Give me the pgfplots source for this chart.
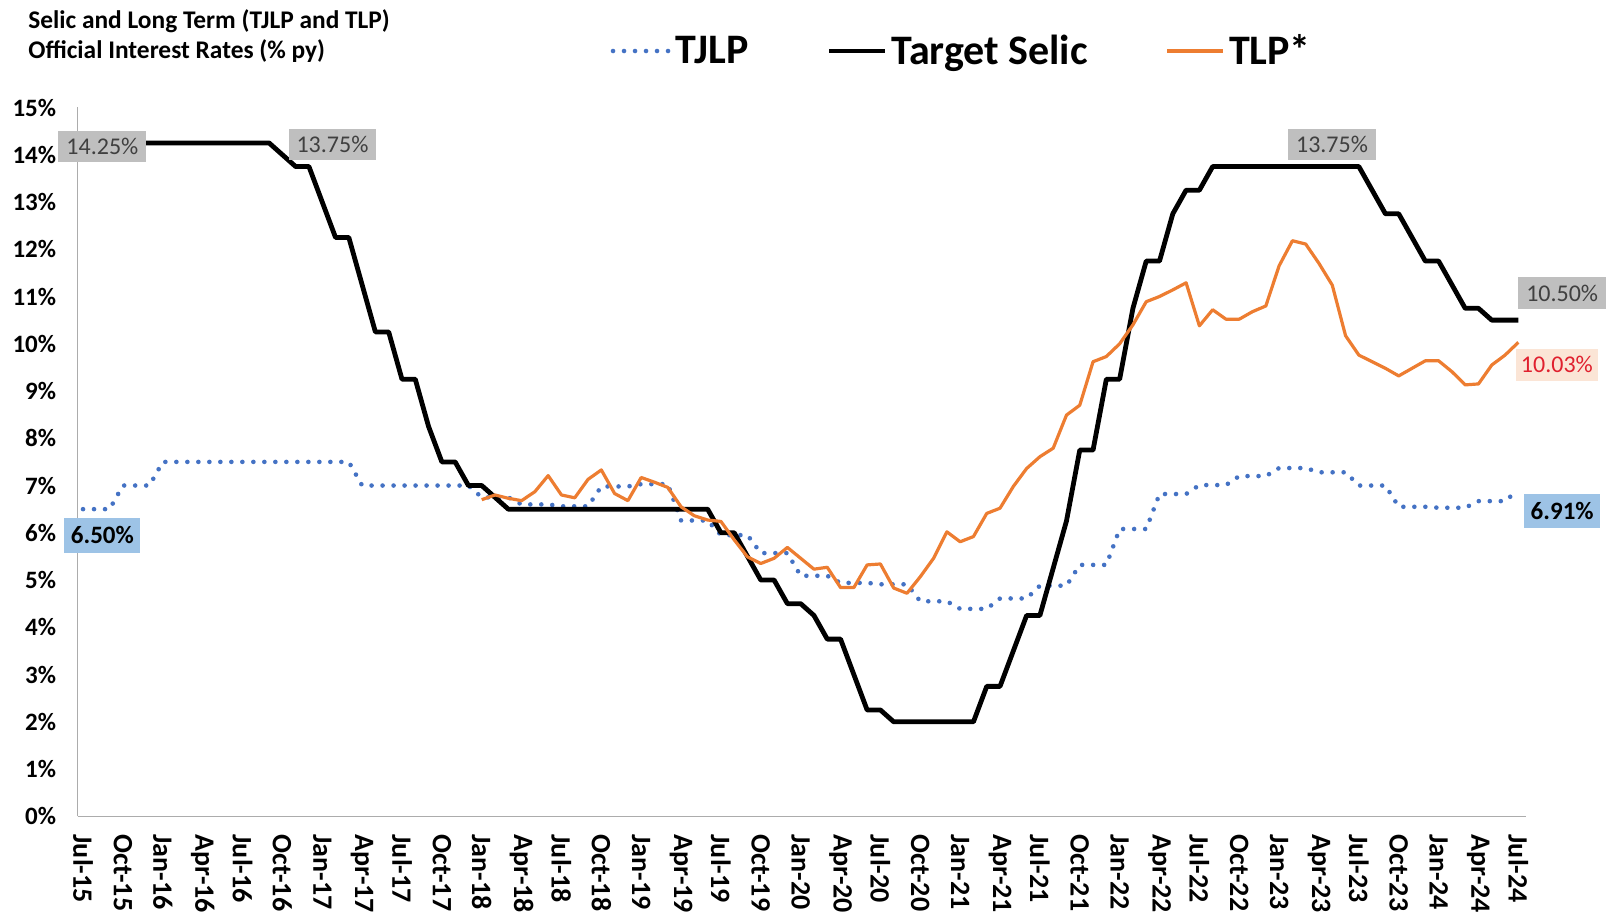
\documentclass[border=0pt]{standalone}
\usepackage{fontspec}
\setmainfont{Carlito}
\usepackage{pgfplots}
\pgfplotsset{compat=1.18}
\definecolor{tjlp}{HTML}{4472C4}
\definecolor{tlp}{HTML}{ED7D31}
\definecolor{lgray}{HTML}{BFBFBF}
\definecolor{dgray}{HTML}{404040}
\definecolor{lblue}{HTML}{9DC3E6}
\definecolor{lpeach}{HTML}{FBE5D6}
\definecolor{lred}{HTML}{E0202E}
\begin{document}
\begin{tikzpicture}
\path[use as bounding box] (0,0) rectangle (803pt,461pt);
\node[anchor=west, inner sep=0pt, font=\fontsize{12.7}{15}\selectfont\bfseries] at (14pt,450.5pt) {Selic and Long Term (TJLP and TLP)};
\node[anchor=west, inner sep=0pt, font=\fontsize{12.7}{15}\selectfont\bfseries] at (14pt,435.4pt) {Official Interest Rates (\% py)};
\begin{axis}[
  at={(38.85pt,52.85pt)}, anchor=south west,
  scale only axis, width=724.3pt, height=354.4pt,
  xmin=-0.4, xmax=108.6, ymin=0, ymax=15,
  clip=false,
  axis x line*=bottom, axis y line*=left,
  axis line style={draw=gray!65, line width=0.7pt},
  major tick length=0pt,
  ytick={0,1,...,15},
  yticklabels={0\%,1\%,2\%,3\%,4\%,5\%,6\%,7\%,8\%,9\%,10\%,11\%,12\%,13\%,14\%,15\%},
  yticklabel style={anchor=east, inner ysep=0pt, inner xsep=10.6pt, font=\fontsize{12.5}{15}\selectfont\bfseries},
  xtick={0,3,...,108},
  xticklabels={Jul-15,Oct-15,Jan-16,Apr-16,Jul-16,Oct-16,Jan-17,Apr-17,Jul-17,Oct-17,Jan-18,Apr-18,Jul-18,Oct-18,Jan-19,Apr-19,Jul-19,Oct-19,Jan-20,Apr-20,Jul-20,Oct-20,Jan-21,Apr-21,Jul-21,Oct-21,Jan-22,Apr-22,Jul-22,Oct-22,Jan-23,Apr-23,Jul-23,Oct-23,Jan-24,Apr-24,Jul-24},
  xticklabel style={rotate=-90, anchor=west, inner ysep=0pt, inner xsep=9pt, font=\fontsize{14}{16}\selectfont\bfseries},
  legend columns=3,
  legend style={at={(0.611,1.0797)}, anchor=center, draw=none, fill=none,
    font=\fontsize{21}{25}\selectfont\bfseries,
    /tikz/every even column/.append style={column sep=37pt},
    nodes={inner xsep=2pt, inner ysep=1pt}},
  legend image code/.code={\draw[#1] (0pt,0pt) -- (28pt,0pt);},
]
\addplot[tjlp, line width=2.3pt, line cap=round, dash pattern=on 0pt off 5.5pt] coordinates {
(0,6.50)(1,6.50)(2,6.50)(3,7.00)(4,7.00)(5,7.00)(6,7.50)(7,7.50)(8,7.50)(9,7.50)(10,7.50)(11,7.50)(12,7.50)(13,7.50)(14,7.50)(15,7.50)(16,7.50)(17,7.50)(18,7.50)(19,7.50)(20,7.50)
(21,7.00)(22,7.00)(23,7.00)(24,7.00)(25,7.00)(26,7.00)(27,7.00)(28,7.00)(29,7.00)
(30,6.75)(31,6.75)(32,6.75)(33,6.60)(34,6.60)(35,6.60)(36,6.56)(37,6.56)(38,6.56)(39,6.98)(40,6.98)(41,6.98)
(42,7.03)(43,7.03)(44,7.03)(45,6.26)(46,6.26)(47,6.26)(48,5.95)(49,5.95)(50,5.95)(51,5.57)(52,5.57)(53,5.57)
(54,5.09)(55,5.09)(56,5.09)(57,4.94)(58,4.94)(59,4.94)(60,4.91)(61,4.91)(62,4.91)(63,4.55)(64,4.55)(65,4.55)
(66,4.39)(67,4.39)(68,4.39)(69,4.61)(70,4.61)(71,4.61)(72,4.88)(73,4.88)(74,4.88)(75,5.32)(76,5.32)(77,5.32)
(78,6.08)(79,6.08)(80,6.08)(81,6.82)(82,6.82)(83,6.82)(84,7.01)(85,7.01)(86,7.01)(87,7.20)(88,7.20)(89,7.20)
(90,7.37)(91,7.37)(92,7.37)(93,7.28)(94,7.28)(95,7.28)(96,7.00)(97,7.00)(98,7.00)(99,6.55)(100,6.55)(101,6.55)
(102,6.53)(103,6.53)(104,6.53)(105,6.67)(106,6.67)(107,6.67)(108,6.91)
};
\addlegendentry{TJLP}
\addplot[black, line width=2.4pt, line join=round] coordinates {
(0,14.25)(1,14.25)(2,14.25)(3,14.25)(4,14.25)(5,14.25)(6,14.25)(7,14.25)(8,14.25)(9,14.25)(10,14.25)(11,14.25)(12,14.25)(13,14.25)(14,14.25)
(15,14.00)(16,13.75)(17,13.75)(18,13.00)(19,12.25)(20,12.25)(21,11.25)(22,10.25)(23,10.25)(24,9.25)(25,9.25)(26,8.25)(27,7.50)(28,7.50)(29,7.00)(30,7.00)(31,6.75)
(32,6.50)(33,6.50)(34,6.50)(35,6.50)(36,6.50)(37,6.50)(38,6.50)(39,6.50)(40,6.50)(41,6.50)(42,6.50)(43,6.50)(44,6.50)(45,6.50)(46,6.50)(47,6.50)
(48,6.00)(49,6.00)(50,5.50)(51,5.00)(52,5.00)(53,4.50)(54,4.50)(55,4.25)(56,3.75)(57,3.75)(58,3.00)(59,2.25)(60,2.25)
(61,2.00)(62,2.00)(63,2.00)(64,2.00)(65,2.00)(66,2.00)(67,2.00)
(68,2.75)(69,2.75)(70,3.50)(71,4.25)(72,4.25)(73,5.25)(74,6.25)(75,7.75)(76,7.75)(77,9.25)(78,9.25)(79,10.75)(80,11.75)(81,11.75)(82,12.75)(83,13.25)(84,13.25)
(85,13.75)(86,13.75)(87,13.75)(88,13.75)(89,13.75)(90,13.75)(91,13.75)(92,13.75)(93,13.75)(94,13.75)(95,13.75)(96,13.75)
(97,13.25)(98,12.75)(99,12.75)(100,12.25)(101,11.75)(102,11.75)(103,11.25)(104,10.75)(105,10.75)(106,10.50)(107,10.50)(108,10.50)
};
\addlegendentry{Target Selic}
\addplot[tlp, line width=1.6pt, line join=round] coordinates {
(30,6.70)(31,6.80)(32,6.73)(33,6.68)(34,6.87)(35,7.21)(36,6.80)(37,6.74)(38,7.13)(39,7.33)(40,6.83)(41,6.68)
(42,7.17)(43,7.07)(44,6.96)(45,6.55)(46,6.36)(47,6.27)(48,6.24)(49,5.85)(50,5.49)(51,5.35)(52,5.46)(53,5.69)
(54,5.46)(55,5.23)(56,5.27)(57,4.84)(58,4.84)(59,5.32)(60,5.34)(61,4.83)(62,4.72)(63,5.07)(64,5.46)(65,6.02)
(66,5.81)(67,5.92)(68,6.41)(69,6.52)(70,6.98)(71,7.36)(72,7.61)(73,7.79)(74,8.49)(75,8.70)(76,9.62)(77,9.73)
(78,10.00)(79,10.40)(80,10.89)(81,11.00)(82,11.14)(83,11.29)(84,10.38)(85,10.72)(86,10.52)(87,10.52)(88,10.68)(89,10.80)
(90,11.65)(91,12.18)(92,12.11)(93,11.70)(94,11.24)(95,10.17)(96,9.76)(97,9.62)(98,9.48)(99,9.32)(100,9.48)(101,9.64)
(102,9.64)(103,9.41)(104,9.13)(105,9.15)(106,9.55)(107,9.76)(108,10.03)
};
\addlegendentry{TLP*}
\node[fill=lgray, text=dgray, font=\fontsize{12}{14}\selectfont, minimum height=15.5pt, inner xsep=4pt, inner ysep=0pt] at (axis cs:1.46,14.18) {14.25\%};
\node[fill=lgray, text=dgray, font=\fontsize{12}{14}\selectfont, minimum height=15.5pt, inner xsep=4pt, inner ysep=0pt] at (axis cs:18.77,14.21) {13.75\%};
\node[fill=lgray, text=dgray, font=\fontsize{12}{14}\selectfont, minimum height=15.5pt, inner xsep=4pt, inner ysep=0pt] at (axis cs:93.98,14.22) {13.75\%};
\node[fill=lgray, text=dgray, font=\fontsize{12}{14}\selectfont, minimum height=16pt, inner xsep=4pt, inner ysep=0pt] at (axis cs:111.3,11.07) {10.50\%};
\node[fill=lpeach, text=lred, font=\fontsize{12}{14}\selectfont, minimum height=16pt, inner xsep=2.5pt, inner ysep=0pt] at (axis cs:110.9,9.56) {10.03\%};
\node[fill=lblue, text=black, font=\fontsize{12.5}{14}\selectfont\bfseries, minimum height=17pt, inner xsep=3.3pt, inner ysep=0pt] at (axis cs:111.3,6.47) {6.91\%};
\node[fill=lblue, text=black, font=\fontsize{12.5}{14}\selectfont\bfseries, minimum height=17.5pt, inner xsep=3.3pt, inner ysep=0pt] at (axis cs:1.46,5.95) {6.50\%};
\end{axis}
\end{tikzpicture}
\end{document}
